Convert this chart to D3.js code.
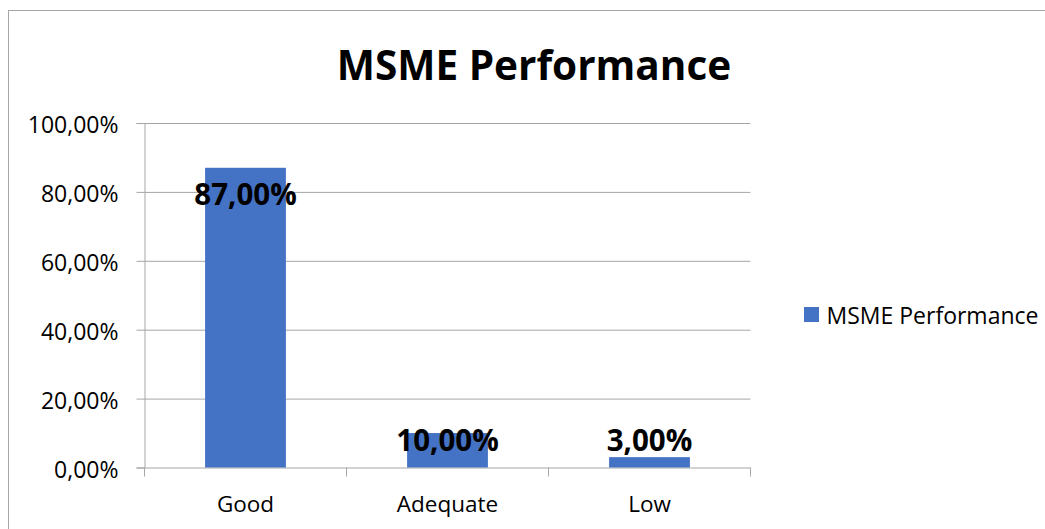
<!DOCTYPE html>
<html>
<head>
<meta charset="utf-8">
<script src="https://cdn.jsdelivr.net/npm/d3@7"></script>
<style>
  body { margin: 0; background: #fff; }
  svg text { font-family: "Open Sans", sans-serif; fill: #000; }
</style>
</head>
<body>
<script>
const categories = ["Good", "Adequate", "Low"];
const values = [0.87, 0.10, 0.03];
const yTicks = [0, 0.2, 0.4, 0.6, 0.8, 1.0];
const seriesName = "MSME Performance";
const chartTitle = "MSME Performance";

const width = 1045, height = 529;
const plot = { left: 144.5, right: 750.5, top: 123, bottom: 467.5 };
const barColor = "#4472C4";
const gridColor = "#a6a6a6";

const fmt = v => (v * 100).toFixed(2).replace(".", ",") + "%";

const svg = d3.select("body")
	.append("svg")
	.attr("width", width)
	.attr("height", height);

// outer chart border (runs off right and bottom)
svg.append("rect")
	.attr("x", 8.5)
	.attr("y", 10.5)
	.attr("width", width + 20)
	.attr("height", height + 20)
	.attr("fill", "none")
	.attr("stroke", "#a6a6a6")
	.attr("stroke-width", 1);

const x = d3.scaleBand()
	.domain(categories)
	.range([plot.left, plot.right])
	.paddingInner(0.6)
	.paddingOuter(0.3);

const y = d3.scaleLinear()
	.domain([0, 1])
	.range([plot.bottom, plot.top]);

// gridlines + y ticks
const yAxis = svg.append("g")
	.attr("transform", `translate(${plot.left},0)`)
	.call(d3.axisLeft(y)
		.tickValues(yTicks)
		.tickFormat(fmt)
		.tickSize(8)
		.tickPadding(18));
yAxis.select(".domain").attr("stroke", gridColor);
yAxis.selectAll(".tick line").attr("stroke", gridColor);
yAxis.selectAll(".tick text")
	.attr("font-size", 23)
	.attr("font-family", "'Open Sans', sans-serif")
	.attr("dy", "0.42em")
	.attr("fill", "#000");
yAxis.selectAll(".tick")
	.append("line")
	.attr("x1", 0)
	.attr("x2", plot.right - plot.left)
	.attr("stroke", gridColor);

// x axis ticks between categories
const xTickPos = d3.range(categories.length + 1).map(i => plot.left + i * x.step());
svg.append("g")
	.selectAll("line")
	.data(xTickPos)
	.join("line")
	.attr("x1", d => d)
	.attr("x2", d => d)
	.attr("y1", plot.bottom)
	.attr("y2", plot.bottom + 9)
	.attr("stroke", gridColor);

svg.selectAll("text.cat")
	.data(categories)
	.join("text")
	.attr("class", "cat")
	.attr("x", d => x(d) + x.bandwidth() / 2)
	.attr("y", 512)
	.attr("text-anchor", "middle")
	.attr("font-size", 22.5)
	.text(d => d);

// bars
svg.append("g")
	.selectAll("rect")
	.data(values)
	.join("rect")
	.attr("x", (d, i) => x(categories[i]))
	.attr("y", d => y(d))
	.attr("width", x.bandwidth())
	.attr("height", d => y(0) - y(d))
	.attr("fill", barColor);

// data labels
svg.append("g")
	.selectAll("text")
	.data(values)
	.join("text")
	.attr("x", (d, i) => x(categories[i]) + x.bandwidth() / 2)
	.attr("y", d => Math.min(y(d) + 37, y(0) - 17))
	.attr("text-anchor", "middle")
	.attr("font-size", 29.5)
	.attr("font-weight", "bold")
	.text(fmt);

// title
svg.append("text")
	.attr("x", 534)
	.attr("y", 80)
	.attr("text-anchor", "middle")
	.attr("font-size", 40.5)
	.attr("font-weight", "bold")
	.text(chartTitle);

// legend
const legend = svg.append("g").attr("transform", "translate(804,307)");
legend.append("rect")
	.attr("width", 15)
	.attr("height", 15)
	.attr("fill", barColor);
legend.append("text")
	.attr("x", 22.5)
	.attr("y", 17)
	.attr("font-size", 23)
	.text(seriesName);
</script>
</body>
</html>
